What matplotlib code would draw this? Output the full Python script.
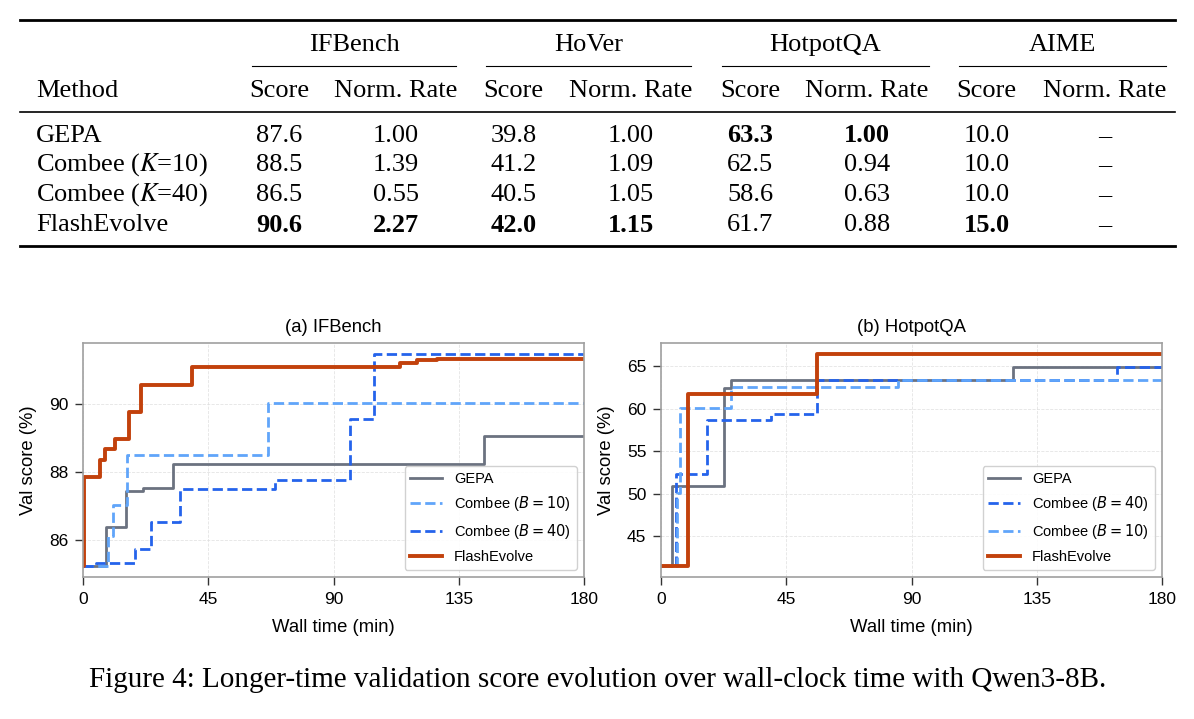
import matplotlib
matplotlib.use("Agg")
import matplotlib.pyplot as plt
from matplotlib.font_manager import FontProperties

# ---- table data ----
methods = ["GEPA", "Combee ($K$=10)", "Combee ($K$=40)", "FlashEvolve"]
benchmarks = ["IFBench", "HoVer", "HotpotQA", "AIME"]
scores = [[87.6, 39.8, 63.3, 10.0],
          [88.5, 41.2, 62.5, 10.0],
          [86.5, 40.5, 58.6, 10.0],
          [90.6, 42.0, 61.7, 15.0]]
rates = [[1.00, 1.00, 1.00, None],
         [1.39, 1.09, 0.94, None],
         [0.55, 1.05, 0.63, None],
         [2.27, 1.15, 0.88, None]]
# which cells are bold: (row, col, 'score'/'rate')
bold = {(3, 0, "s"), (3, 0, "r"), (3, 1, "s"), (3, 1, "r"),
        (0, 2, "s"), (0, 2, "r"), (3, 3, "s")}

caption = "Figure 4: Longer-time validation score evolution over wall-clock time with Qwen3-8B."

# ---- curve data (wall time in min, val score in %) ----
if_gepa_t = [0, 8.2, 15.3, 21.5, 32.3, 143.9, 180]
if_gepa_v = [85.24, 86.39, 87.44, 87.55, 88.23, 89.06, 89.06]
if_c10_t = [0, 8.9, 10.8, 15.7, 66.3, 180]
if_c10_v = [85.24, 86.12, 87.05, 88.5, 90.03, 90.03]
if_c40_t = [0, 4.6, 18.6, 24.4, 34.7, 69.0, 95.8, 104.4, 180]
if_c40_v = [85.24, 85.34, 85.74, 86.53, 87.5, 87.76, 89.56, 91.48, 91.48]
if_flash_t = [0, 0.4, 6.0, 7.8, 11.4, 16.6, 21.0, 39.2, 114.0, 120.0, 127.3, 180]
if_flash_v = [85.24, 87.85, 88.37, 88.67, 88.99, 89.77, 90.56, 91.08, 91.22, 91.28, 91.33, 91.33]

hq_gepa_t = [0, 4.1, 22.6, 25.2, 126.3, 180]
hq_gepa_v = [41.47, 50.85, 62.45, 63.32, 64.9, 64.9]
hq_c40_t = [0, 5.3, 16.4, 39.5, 56.2, 163.8, 180]
hq_c40_v = [41.47, 52.35, 58.63, 59.4, 63.32, 64.9, 64.9]
hq_c10_t = [0, 5.6, 6.8, 25.2, 85.2, 180]
hq_c10_v = [41.47, 50.1, 60.1, 62.5, 63.32, 63.32]
hq_flash_t = [0, 9.6, 56.2, 180]
hq_flash_v = [41.47, 61.73, 66.45, 66.45]

GRAY = "#6b7280"
LBLUE = "#60a5fa"
BLUE = "#2563eb"
ORANGE = "#c2410c"

W, H = 1194, 719
fig = plt.figure(figsize=(W / 100, H / 100), dpi=100)


def fx(x):
    return x / W


def fy(y):
    return 1 - y / H


serif = "Liberation Serif"
tsize = 19


def ttext(x, y, s, ha="center", weight="normal", size=tsize):
    fig.text(fx(x), fy(y), s, ha=ha, va="center", fontsize=size,
             fontweight=weight, family=serif, math_fontfamily="stix")


def hrule(y, x0, x1, lw):
    fig.add_artist(plt.Line2D([fx(x0), fx(x1)], [fy(y), fy(y)],
                              color="black", lw=lw, transform=fig.transFigure))


# ---- table ----
hrule(20, 20, 1175, 2.0)
hrule(112, 20, 1175, 1.2)
hrule(246, 20, 1175, 2.0)

score_x = [279, 513.5, 750, 986.5]
rate_x = [396, 631, 867, 1104.5]
under = [(252, 456), (486, 691), (722, 929), (959, 1166)]
for j, b in enumerate(benchmarks):
    ttext((under[j][0] + under[j][1]) / 2, 45, b)
    hrule(66, under[j][0], under[j][1], 0.8)
    ttext(score_x[j], 91, "Score")
    ttext(rate_x[j], 91, "Norm. Rate")
ttext(36, 91, "Method", ha="left")

row_y = [136, 165, 195, 225]
for i, m in enumerate(methods):
    ttext(36, row_y[i], m, ha="left")
    for j in range(4):
        w = "bold" if (i, j, "s") in bold else "normal"
        ttext(score_x[j], row_y[i], f"{scores[i][j]:.1f}", weight=w)
        r = rates[i][j]
        w = "bold" if (i, j, "r") in bold else "normal"
        ttext(rate_x[j], row_y[i], "–" if r is None else f"{r:.2f}", weight=w)

ttext(598, 680, caption, size=21)

# ---- plots ----
sans = "Liberation Sans"
plt.rcParams["font.family"] = sans


def style(ax, title):
    ax.set_xlim(0, 180)
    ax.set_xticks([0, 45, 90, 135, 180])
    ax.grid(True, ls="--", lw=0.6, color="#dddddd", alpha=0.8)
    ax.set_axisbelow(True)
    for sp in ax.spines.values():
        sp.set_color("#a0a0a0")
        sp.set_linewidth(1.2)
    ax.tick_params(labelsize=12.5, length=5.5, width=1, pad=5, color="#333333")
    ax.set_xlabel("Wall time (min)", fontsize=13.3)
    ax.set_ylabel("Val score (%)", fontsize=13.3)
    ax.xaxis.set_label_coords(0.5, -0.18)
    ax.yaxis.set_label_coords(-0.092, 0.5)
    ax.set_title(title, fontsize=13.3, pad=8)
    leg = ax.legend(loc="lower right",
                    prop=FontProperties(family=sans, size=10.5, math_fontfamily="dejavusans"),
                    framealpha=0.9, edgecolor="#cccccc", fancybox=True,
                    handlelength=2.2, labelspacing=0.6)
    leg.get_frame().set_linewidth(1.0)


ax1 = fig.add_axes([fx(83), fy(577), fx(501), 234 / H])
ax1.step(if_gepa_t, if_gepa_v, where="post", color=GRAY, lw=2.0, label="GEPA")
ax1.step(if_c10_t, if_c10_v, where="post", color=LBLUE, lw=2.0, ls="--", label="Combee ($B = 10$)")
ax1.step(if_c40_t, if_c40_v, where="post", color=BLUE, lw=2.0, ls="--", label="Combee ($B = 40$)")
ax1.step(if_flash_t, if_flash_v, where="post", color=ORANGE, lw=2.8, label="FlashEvolve")
ax1.set_yticks([86, 88, 90])
style(ax1, "(a) IFBench")

ax2 = fig.add_axes([fx(661), fy(577), fx(501), 234 / H])
ax2.step(hq_gepa_t, hq_gepa_v, where="post", color=GRAY, lw=2.0, label="GEPA")
ax2.step(hq_c40_t, hq_c40_v, where="post", color=BLUE, lw=2.0, ls="--", label="Combee ($B = 40$)")
ax2.step(hq_c10_t, hq_c10_v, where="post", color=LBLUE, lw=2.0, ls="--", label="Combee ($B = 10$)")
ax2.step(hq_flash_t, hq_flash_v, where="post", color=ORANGE, lw=2.8, label="FlashEvolve")
ax2.set_yticks([45, 50, 55, 60, 65])
style(ax2, "(b) HotpotQA")

fig.savefig("out.png", dpi=100)
